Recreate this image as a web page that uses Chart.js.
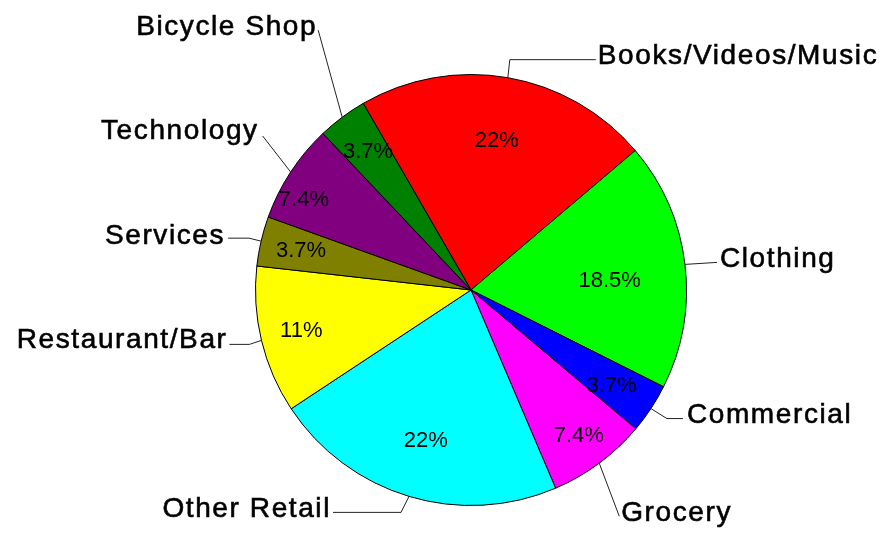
<!DOCTYPE html>
<html>
<head>
<meta charset="utf-8">
<script src="https://cdn.jsdelivr.net/npm/chart.js@4/dist/chart.umd.min.js"></script>
<style>
  html, body { margin: 0; padding: 0; background: #fff; }
  #wrap { width: 885px; height: 533px; }
</style>
</head>
<body>
<div id="wrap"><canvas id="pie" width="885" height="533"></canvas></div>
<script>
// Slice data, clockwise from Books/Videos/Music
const categories = ['Books/Videos/Music', 'Clothing', 'Commercial', 'Grocery', 'Other Retail',
  'Restaurant/Bar', 'Services', 'Technology', 'Bicycle Shop'];
const shares = [22, 18.5, 3.7, 7.4, 22, 11, 3.7, 7.4, 3.7];
const shareLabels = ['22%', '18.5%', '3.7%', '7.4%', '22%', '11%', '3.7%', '7.4%', '3.7%'];
const sliceColors = ['#ff0000', '#00ff00', '#0000ff', '#ff00ff', '#00ffff',
  '#ffff00', '#808000', '#800080', '#008000'];

// Layout: radius fraction and angle nudge (deg) for the % text inside each slice
const pctRadius = [0.70, 0.645, 0.79, 0.84, 0.73, 0.81, 0.81, 0.88, 0.80];
const pctNudge = [0, 3, 1, 0, 0, 0, 0, -5, 0];
// Leader lines: bends relative to the slice's edge point, then text anchor (dx, dy, align)
const leaders = [
  { pts: [[2, -18], [88, -18]], text: [90, -14, 'left'] },
  { pts: [[32, -2]], text: [35, 3, 'left'] },
  { pts: [[16, 10], [32, 10]], text: [36, 14, 'left'] },
  { pts: [[20, 53]], text: [22, 58, 'left'] },
  { pts: [[-8, 16], [-76, 16]], text: [-78, 21, 'right'] },
  { pts: [[-12, 4], [-32, 4]], text: [-34, 8, 'right'] },
  { pts: [[-12, -3], [-33, -3]], text: [-36, 3, 'right'] },
  { pts: [[-28, -36]], text: [-32, -33, 'right'] },
  { pts: [[-24, -87]], text: [-25, -82, 'right'] }
];

const labelPlugin = {
  id: 'sliceLabels',
  afterDatasetsDraw(chart) {
    const ctx = chart.ctx;
    const arcs = chart.getDatasetMeta(0).data;
    ctx.save();
    arcs.forEach((arc, i) => {
      const p = arc.getProps(['x', 'y', 'startAngle', 'endAngle', 'outerRadius'], true);
      const mid = (p.startAngle + p.endAngle) / 2;

      // percentage inside the slice
      const r = p.outerRadius * pctRadius[i];
      const a = mid + pctNudge[i] * Math.PI / 180;
      ctx.fillStyle = '#000';
      ctx.font = '22px "Liberation Sans", Arial, sans-serif';
      ctx.textAlign = 'center';
      ctx.textBaseline = 'middle';
      ctx.fillText(shareLabels[i], p.x + Math.cos(a) * r, p.y + Math.sin(a) * r);

      // leader line from the edge out to the category name
      const ax = p.x + Math.cos(mid) * p.outerRadius;
      const ay = p.y + Math.sin(mid) * p.outerRadius;
      const lead = leaders[i];
      ctx.strokeStyle = '#222';
      ctx.lineWidth = 1;
      ctx.beginPath();
      ctx.moveTo(ax, ay);
      lead.pts.forEach(([dx, dy]) => ctx.lineTo(ax + dx, ay + dy));
      ctx.stroke();

      const [tx, ty, align] = lead.text;
      ctx.font = '28px "Liberation Sans", Arial, sans-serif';
      ctx.letterSpacing = '1.6px';
      ctx.textAlign = align;
      ctx.textBaseline = 'alphabetic';
      ctx.fillText(categories[i], ax + tx, ay + ty);
      // a hairline stroke to give the names the heavier look of the original
      ctx.strokeStyle = '#000';
      ctx.lineWidth = 0.6;
      ctx.strokeText(categories[i], ax + tx, ay + ty);
      ctx.letterSpacing = '0px';
    });
    ctx.restore();
  }
};

new Chart(document.getElementById('pie'), {
  type: 'pie',
  data: {
    labels: categories,
    datasets: [{
      data: shares,
      backgroundColor: sliceColors,
      borderColor: '#000',
      borderWidth: 1
    }]
  },
  options: {
    responsive: false,
    animation: false,
    rotation: -30,
    layout: { padding: { left: 255, right: 198, top: 74, bottom: 27 } },
    plugins: {
      legend: { display: false },
      tooltip: { enabled: false }
    }
  },
  plugins: [labelPlugin]
});
</script>
</body>
</html>
